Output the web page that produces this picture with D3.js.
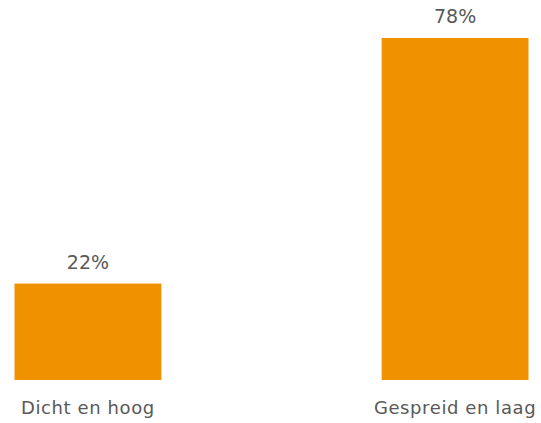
<!DOCTYPE html>
<html><head><meta charset="utf-8">
<script src="https://cdn.jsdelivr.net/npm/d3@7"></script>
<style>body{margin:0;background:#fff} text{font-family:"DejaVu Sans", Verdana, sans-serif;}</style>
</head><body><svg id="c" width="541" height="423"></svg>
<script>
const categories = ["Dicht en hoog", "Gespreid en laag"];
const values = [22, 78];
const valueLabels = ["22%", "78%"];

const svg = d3.select("#c");
const x = d3.scaleBand().domain(categories).range([14.5, 528.5]).paddingInner(0.6).paddingOuter(0);
const y = d3.scaleLinear().domain([0, 78]).range([380, 38]);

svg.selectAll("rect.bar").data(values).enter().append("rect")
  .attr("class","bar")
  .attr("x", (d,i)=>x(categories[i]))
  .attr("width", x.bandwidth())
  .attr("y", d=>y(d))
  .attr("height", d=>y(0)-y(d))
  .attr("fill", "#F09100");

svg.selectAll("text.val").data(values).enter().append("text")
  .attr("class","val")
  .attr("x", (d,i)=>x(categories[i]) + x.bandwidth()/2)
  .attr("y", d=>y(d) - 15)
  .attr("text-anchor","middle")
  .attr("font-size","19px")
  .attr("fill","#595959")
  .text((d,i)=>valueLabels[i]);

svg.selectAll("text.cat").data(categories).enter().append("text")
  .attr("class","cat")
  .attr("x", d=>x(d) + x.bandwidth()/2)
  .attr("y", 414)
  .attr("text-anchor","middle")
  .attr("font-size","18px")
  .attr("letter-spacing","0.6px")
  .attr("fill","#595959")
  .text(d=>d);
</script></body></html>
